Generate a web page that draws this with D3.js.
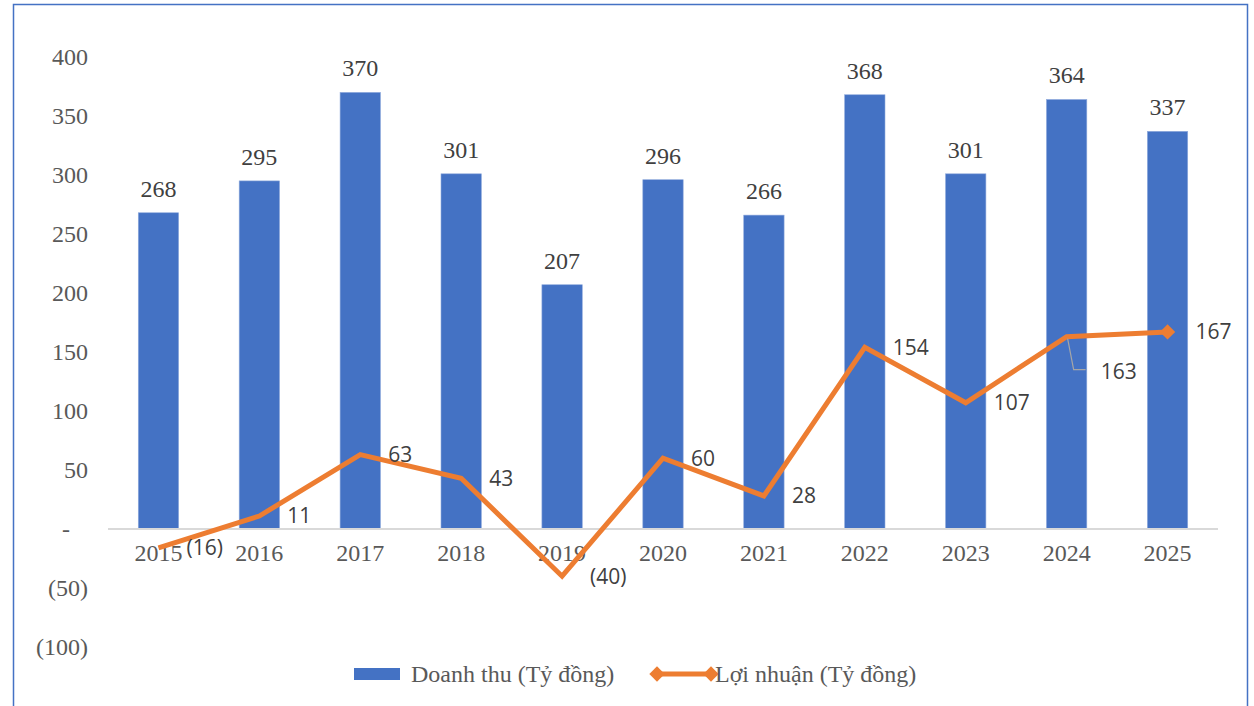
<!DOCTYPE html>
<html>
<head>
<meta charset="utf-8">
<script src="https://cdn.jsdelivr.net/npm/d3@7"></script>
<style>
  html, body { margin: 0; padding: 0; background: #fff; }
  svg { display: block; }
  .serif { font-family: 'Liberation Serif', 'Times New Roman', serif; }
  .sans { font-family: 'Open Sans', 'Liberation Sans', sans-serif; }
</style>
</head>
<body>
<svg id="chart"></svg>
<script>
const years = ['2015','2016','2017','2018','2019','2020','2021','2022','2023','2024','2025'];
const revenue = [268, 295, 370, 301, 207, 296, 266, 368, 301, 364, 337];
const profit = [-16, 11, 63, 43, -40, 60, 28, 154, 107, 163, 167];
const yTicks = [-100, -50, 0, 50, 100, 150, 200, 250, 300, 350, 400];
const seriesNames = ['Doanh thu (Tỷ đồng)', 'Lợi nhuận (Tỷ đồng)'];

const width = 1254, height = 706;
const margin = {top: 57, right: 36, bottom: 59, left: 108};
const blue = '#4472C4', orange = '#ED7D31';

const fmt = v => v === 0 ? '-' : (v < 0 ? '(' + Math.abs(v) + ')' : String(v));

const svg = d3.select('#chart').attr('width', width).attr('height', height);

// frame
svg.append('path')
  .attr('d', `M13.5,706 L13.5,4.5 L1247.5,4.5 L1247.5,706`)
  .attr('fill', 'none').attr('stroke', blue).attr('stroke-width', 1.5);

const x = d3.scaleBand()
  .domain(years)
  .range([margin.left, width - margin.right])
  .paddingInner(0.6).paddingOuter(0.3);

const y = d3.scaleLinear()
  .domain([-100, 400])
  .range([height - margin.bottom, margin.top]);

// y axis labels only
const yAxis = svg.append('g')
  .attr('transform', `translate(${margin.left - 20},0)`)
  .call(d3.axisLeft(y).tickValues(yTicks).tickFormat(fmt).tickSize(0).tickPadding(0));
yAxis.attr('font-family', null);
yAxis.select('.domain').remove();
yAxis.selectAll('text')
  .attr('class', 'serif').attr('font-size', 24).attr('fill', '#595959')
  .attr('dy', '0.32em')
  .attr('dx', d => d === 0 ? -18 : 0);

// bars
svg.append('g').selectAll('rect')
  .data(years)
  .join('rect')
  .attr('x', d => x(d))
  .attr('width', x.bandwidth())
  .attr('y', (d, i) => y(revenue[i]))
  .attr('height', (d, i) => y(0) - y(revenue[i]))
  .attr('fill', blue)
  .attr('stroke', '#8faadc').attr('stroke-width', 0.6);

// bar labels
svg.append('g').selectAll('text')
  .data(years)
  .join('text')
  .attr('class', 'serif')
  .attr('x', d => x(d) + x.bandwidth() / 2)
  .attr('y', (d, i) => y(revenue[i]) - 16)
  .attr('text-anchor', 'middle')
  .attr('font-size', 24).attr('fill', '#404040')
  .text((d, i) => revenue[i]);

// x axis
const xAxis = svg.append('g')
  .attr('transform', `translate(0,${y(0)})`)
  .call(d3.axisBottom(x).tickSize(0).tickPadding(17));
xAxis.attr('font-family', null);
xAxis.select('.domain').attr('stroke', '#d9d9d9').attr('stroke-width', 2)
  .attr('d', `M${margin.left},0H${width - margin.right}`);
xAxis.selectAll('text')
  .attr('class', 'serif').attr('font-size', 24).attr('fill', '#595959')
  .attr('dy', '0.62em');

// profit line
const cx = d => x(d) + x.bandwidth() / 2;
const line = d3.line()
  .x(d => cx(d))
  .y((d, i) => y(profit[i]));
svg.append('path')
  .datum(years)
  .attr('d', line)
  .attr('fill', 'none').attr('stroke', orange)
  .attr('stroke-width', 5).attr('stroke-linejoin', 'miter');

// last point marker
const last = years.length - 1;
svg.append('path')
  .attr('d', d3.symbol(d3.symbolDiamond2, 150)())
  .attr('transform', `translate(${cx(years[last])},${y(profit[last])})`)
  .attr('fill', orange);

// profit labels
const labelShift = {'2024': 35};
svg.append('g').selectAll('text')
  .data(years)
  .join('text')
  .attr('class', 'sans')
  .attr('x', d => cx(d) + (d === '2024' ? 34 : 28))
  .attr('y', (d, i) => y(profit[i]) + (labelShift[d] || 0))
  .attr('dy', '0.35em')
  .attr('font-size', 21).attr('fill', '#404040')
  .text((d, i) => fmt(profit[i]));

// leader line for 2024
const lx = cx('2024'), ly = y(profit[9]);
svg.append('path')
  .attr('d', `M${lx + 1},${ly + 2} L${lx + 7},${ly + 33} L${lx + 19},${ly + 33}`)
  .attr('fill', 'none').attr('stroke', '#a6a6a6').attr('stroke-width', 1.2);

// legend
const lg = svg.append('g').attr('transform', 'translate(0,674)');
lg.append('rect').attr('x', 354).attr('y', -6).attr('width', 46).attr('height', 12).attr('fill', blue);
lg.append('text').attr('class', 'serif').attr('x', 411).attr('y', 0).attr('dy', '0.35em')
  .attr('font-size', 24).attr('fill', '#595959')
  .text(seriesNames[0]);
lg.append('line').attr('x1', 657).attr('x2', 711).attr('y1', 0).attr('y2', 0)
  .attr('stroke', orange).attr('stroke-width', 5);
[657, 711].forEach(px => {
  lg.append('path')
    .attr('d', d3.symbol(d3.symbolDiamond2, 150)())
    .attr('transform', `translate(${px},0)`)
    .attr('fill', orange);
});
lg.append('text').attr('class', 'serif').attr('x', 715).attr('y', 0).attr('dy', '0.35em')
  .attr('font-size', 24).attr('fill', '#595959')
  .text(seriesNames[1]);
</script>
</body>
</html>
